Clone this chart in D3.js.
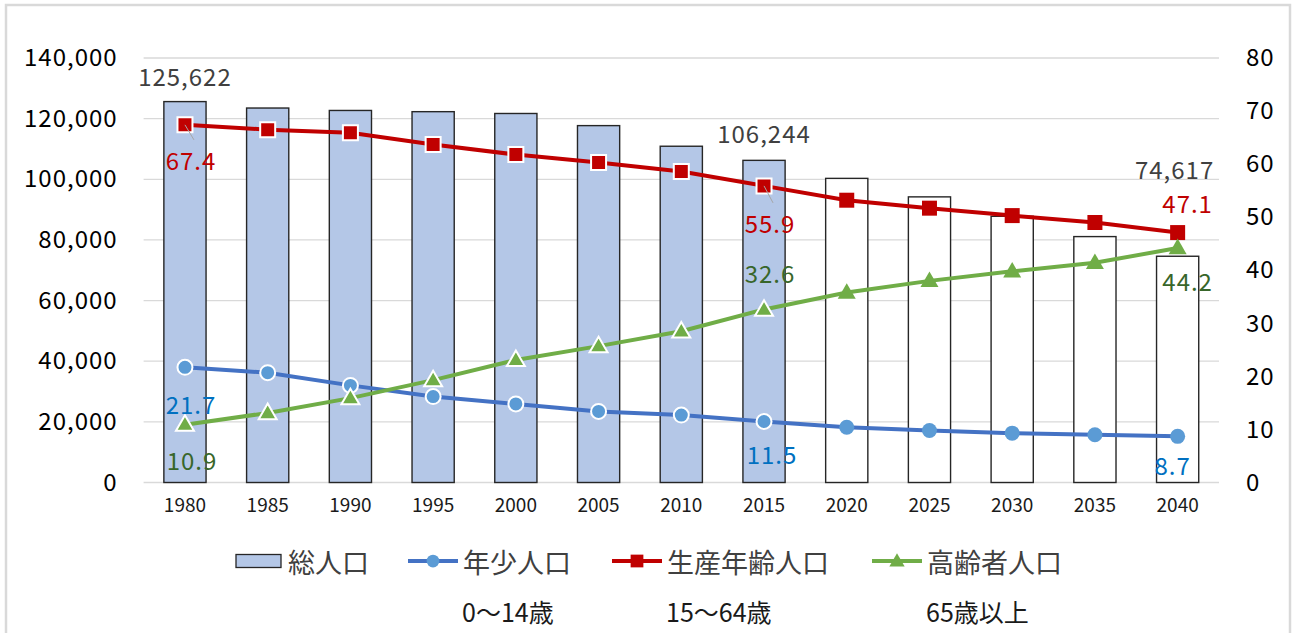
<!DOCTYPE html>
<html>
<head>
<meta charset="utf-8">
<script src="https://cdn.jsdelivr.net/npm/d3@7"></script>
<style>
  body { margin: 0; background: #fff; }
  text { font-family: "Noto Sans CJK JP", "Noto Sans", sans-serif; }
</style>
</head>
<body>
<svg id="chart" width="1297" height="633"></svg>
<script>
// 人口の推移 (総人口 + 年齢3区分の構成比)
const years = [1980, 1985, 1990, 1995, 2000, 2005, 2010, 2015, 2020, 2025, 2030, 2035, 2040];
const total = [125622, 123500, 122700, 122300, 121700, 117700, 110900, 106244, 100300, 94200, 87800, 81100, 74617];
const young = [21.7, 20.7, 18.3, 16.2, 14.8, 13.4, 12.7, 11.5, 10.4, 9.8, 9.3, 9.0, 8.7];
const working = [67.4, 66.5, 65.9, 63.7, 61.8, 60.3, 58.6, 55.9, 53.2, 51.7, 50.3, 49.0, 47.1];
const elderly = [10.9, 13.1, 15.9, 19.3, 23.1, 25.7, 28.5, 32.6, 35.8, 38.0, 39.8, 41.4, 44.2];
const leftTicks = [0, 20000, 40000, 60000, 80000, 100000, 120000, 140000];
const rightTicks = [0, 10, 20, 30, 40, 50, 60, 70, 80];
const legendNames = ["総人口", "年少人口", "生産年齢人口", "高齢者人口"];
const legendSub = ["", "0〜14歳", "15〜64歳", "65歳以上"];
const LAST_ACTUAL = 2015;

const svg = d3.select("#chart");
const plot = { left: 143.6, right: 1219, top: 58, bottom: 482.5 };

// outer frame
svg.append("rect")
    .attr("x", 6).attr("y", 5)
    .attr("width", 1284).attr("height", 700)
    .attr("fill", "none")
    .attr("stroke", "#d9d9d9")
    .attr("stroke-width", 2.5);

const x = d3.scaleBand()
    .domain(years)
    .range([plot.left, plot.right])
    .paddingInner(0.49)
    .paddingOuter(0.245);
const cx = (yr) => x(yr) + x.bandwidth() / 2;

const yL = d3.scaleLinear().domain([0, 140000]).range([plot.bottom, plot.top]);
const yR = d3.scaleLinear().domain([0, 80]).range([plot.bottom, plot.top]);

// gridlines
svg.append("g")
    .selectAll("line")
    .data(leftTicks)
    .join("line")
    .attr("x1", plot.left).attr("x2", plot.right)
    .attr("y1", d => yL(d)).attr("y2", d => yL(d))
    .attr("stroke", "#d9d9d9")
    .attr("stroke-width", 1.3);

// left axis
const fmt = d3.format(",");
const axisL = svg.append("g")
    .attr("transform", `translate(${plot.left - 26},0)`)
    .call(d3.axisLeft(yL).tickValues(leftTicks).tickFormat(fmt).tickSize(0).tickPadding(0));
axisL.select(".domain").remove();
axisL.selectAll("text")
    .attr("font-family", "Noto Sans CJK JP")
    .attr("font-size", 24)
    .attr("letter-spacing", 1)
    .attr("fill", "#000");

// right axis
const axisR = svg.append("g")
    .attr("transform", `translate(${plot.right + 27},0)`)
    .call(d3.axisRight(yR).tickValues(rightTicks).tickSize(0).tickPadding(0));
axisR.select(".domain").remove();
axisR.selectAll("text")
    .attr("font-family", "Noto Sans CJK JP")
    .attr("font-size", 24)
    .attr("letter-spacing", 1)
    .attr("fill", "#000");

// x axis labels
const axisB = svg.append("g")
    .attr("transform", `translate(0,${plot.bottom + 16})`)
    .call(d3.axisBottom(x).tickSize(0).tickPadding(0));
axisB.select(".domain").remove();
axisB.selectAll("text")
    .attr("font-family", "Noto Sans CJK JP")
    .attr("font-size", 19)
    .attr("fill", "#1a1a1a");

// bars
svg.append("g")
    .selectAll("rect")
    .data(years.map((yr, i) => ({ yr, v: total[i] })))
    .join("rect")
    .attr("x", d => x(d.yr))
    .attr("y", d => yL(d.v))
    .attr("width", x.bandwidth())
    .attr("height", d => yL(0) - yL(d.v))
    .attr("fill", d => d.yr <= LAST_ACTUAL ? "#b4c7e7" : "#ffffff")
    .attr("stroke", "#262626")
    .attr("stroke-width", 1.4);

const series = [
    { name: "young", values: young, line: "#4472c4", fill: "#5b9bd5", label: "#0070c0", shape: "circle" },
    { name: "working", values: working, line: "#c00000", fill: "#c00000", label: "#c00000", shape: "square" },
    { name: "elderly", values: elderly, line: "#70ad47", fill: "#70ad47", label: "#38662a", shape: "triangle" }
];

const lineGen = d3.line().x(d => cx(d.yr)).y(d => yR(d.v));

function drawMarker(g, shape, px, py, white, scale) {
    const s = scale || 1;
    let m;
    if (shape === "circle") {
        m = g.append("circle").attr("cx", px).attr("cy", py).attr("r", 7.5 * s);
    } else if (shape === "square") {
        m = g.append("path")
            .attr("d", d3.symbol(d3.symbolSquare, 225 * s * s)())
            .attr("transform", `translate(${px},${py})`);
    } else {
        m = g.append("path")
            .attr("d", d3.symbol(d3.symbolTriangle, 140 * s * s)())
            .attr("transform", `translate(${px},${py + 1})`);
    }
    if (white) m.attr("stroke", "#fff").attr("stroke-width", 2);
    return m;
}

series.forEach(s => {
    const pts = years.map((yr, i) => ({ yr, v: s.values[i] }));
    const g = svg.append("g");
    g.append("path")
        .datum(pts)
        .attr("d", lineGen)
        .attr("fill", "none")
        .attr("stroke", s.line)
        .attr("stroke-width", 4);
    pts.forEach(p => {
        drawMarker(g, s.shape, cx(p.yr), yR(p.v), p.yr <= LAST_ACTUAL).attr("fill", s.fill);
    });
});

// data labels (offsets from the marker / bar top)
const labelStyle = (t, col) => t
    .attr("text-anchor", "middle")
    .attr("dominant-baseline", "central")
    .attr("font-family", "Noto Sans CJK JP")
    .attr("font-size", 24)
    .attr("letter-spacing", 1)
    .attr("fill", col);

const totalLabels = [
    { i: 0, dx: 0, dy: -26 },
    { i: 7, dx: 0, dy: -28 },
    { i: 12, dx: -3, dy: -88 }
];
totalLabels.forEach(l => {
    labelStyle(svg.append("text"), "#404040")
        .attr("x", cx(years[l.i]) + l.dx)
        .attr("y", yL(total[l.i]) + l.dy)
        .text(fmt(total[l.i]));
});

const lineLabels = {
    young: [{ i: 0, dx: 6, dy: 36 }, { i: 7, dx: 8, dy: 32 }, { i: 12, dx: -5, dy: 28 }],
    working: [{ i: 0, dx: 6, dy: 35, lead: true }, { i: 7, dx: 6, dy: 37, lead: true }, { i: 12, dx: 10, dy: -30 }],
    elderly: [{ i: 0, dx: 7, dy: 35 }, { i: 7, dx: 6, dy: -37 }, { i: 12, dx: 10, dy: 33 }]
};
series.forEach(s => {
    lineLabels[s.name].forEach(l => {
        const px = cx(years[l.i]);
        const py = yR(s.values[l.i]);
        if (l.lead) {
            svg.append("line")
                .attr("x1", px).attr("y1", py)
                .attr("x2", px + l.dx + 3).attr("y2", py + l.dy - 20)
                .attr("stroke", "#a6a6a6")
                .attr("stroke-width", 1);
        }
        labelStyle(svg.append("text"), s.label)
            .attr("x", px + l.dx)
            .attr("y", py + l.dy)
            .text(d3.format(".1f")(s.values[l.i]));
    });
});

// legend
const legend = svg.append("g");
const legY = 561;
const legItems = [
    { x: 236, textX: 288, sub: null },
    { x: 408, textX: 463, shape: "circle", s: series[0] },
    { x: 612, textX: 667, shape: "square", s: series[1] },
    { x: 872, textX: 927, shape: "triangle", s: series[2] }
];
legItems.forEach((it, k) => {
    if (k === 0) {
        legend.append("rect")
            .attr("x", it.x).attr("y", legY - 6.5)
            .attr("width", 45).attr("height", 13)
            .attr("fill", "#b4c7e7")
            .attr("stroke", "#262626")
            .attr("stroke-width", 1.3);
    } else {
        legend.append("line")
            .attr("x1", it.x).attr("x2", it.x + 50)
            .attr("y1", legY).attr("y2", legY)
            .attr("stroke", it.s.line)
            .attr("stroke-width", 4);
        drawMarker(legend, it.shape, it.x + 25, legY, false, 0.85).attr("fill", it.s.fill);
    }
    legend.append("text")
        .attr("x", it.textX).attr("y", legY)
        .attr("dominant-baseline", "central")
        .attr("font-size", 27)
        .attr("fill", "#404040")
        .text(legendNames[k]);
    if (legendSub[k]) {
        legend.append("text")
            .attr("x", it.textX - 1).attr("y", 611)
            .attr("dominant-baseline", "central")
            .attr("font-size", 25)
            .attr("fill", "#1a1a1a")
            .text(legendSub[k]);
    }
});
</script>
</body>
</html>
